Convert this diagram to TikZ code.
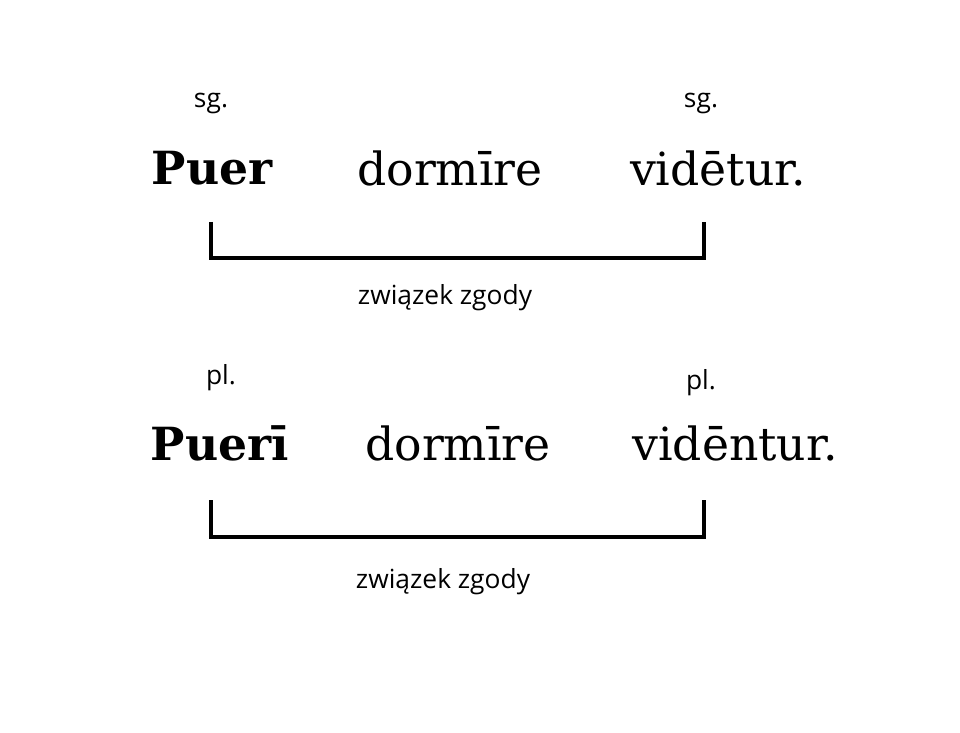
\documentclass[tikz,border=0pt]{standalone}
\usepackage{fontspec}
\setmainfont{DejaVu Serif}
\newfontfamily\labelfont{Open Sans}
\usetikzlibrary{positioning}
\tikzset{word/.style={font=\fontsize{26}{30}\selectfont, inner sep=0pt},
  bold word/.style={word, font=\fontsize{26}{30}\selectfont\bfseries},
  numlabel/.style={font=\labelfont\fontsize{15}{18}\selectfont, inner sep=0pt},
  bracket/.style={line width=2.3pt}}
\begin{document}
\begin{tikzpicture}[x=0.02cm,y=-0.02cm]
\useasboundingbox (0,0) rectangle (960,733);

% Sentence one
\node[bold word] (puer) at (212,168) {Puer};
\node[word] (dorm1) at (450,168) {dormīre};
\node[word] (videtur) at (718,168) {vidētur.};
\node[numlabel] (sg1) at (211,103) {sg.};
\node[numlabel] (sg2) at (701,103) {sg.};
\coordinate (a1) at (211,222);
\coordinate (b1) at (704,222);
\draw[bracket] (a1) -- ++(0,36) -| (b1);
\node[numlabel] (agree1) at (445,298) {związek zgody};

% Sentence two
\node[bold word] (pueri) at (220,443) {Puerī};
\node[word] (dorm2) at (458,443) {dormīre};
\node[word] (videntur) at (735,443) {vidēntur.};
\node[numlabel] (pl1) at (221,378) {pl.};
\node[numlabel] (pl2) at (701,383) {pl.};
\coordinate (a2) at (211,500);
\coordinate (b2) at (704,500);
\draw[bracket] (a2) -- ++(0,37) -| (b2);
\node[numlabel] (agree2) at (443,582) {związek zgody};
\end{tikzpicture}
\end{document}
